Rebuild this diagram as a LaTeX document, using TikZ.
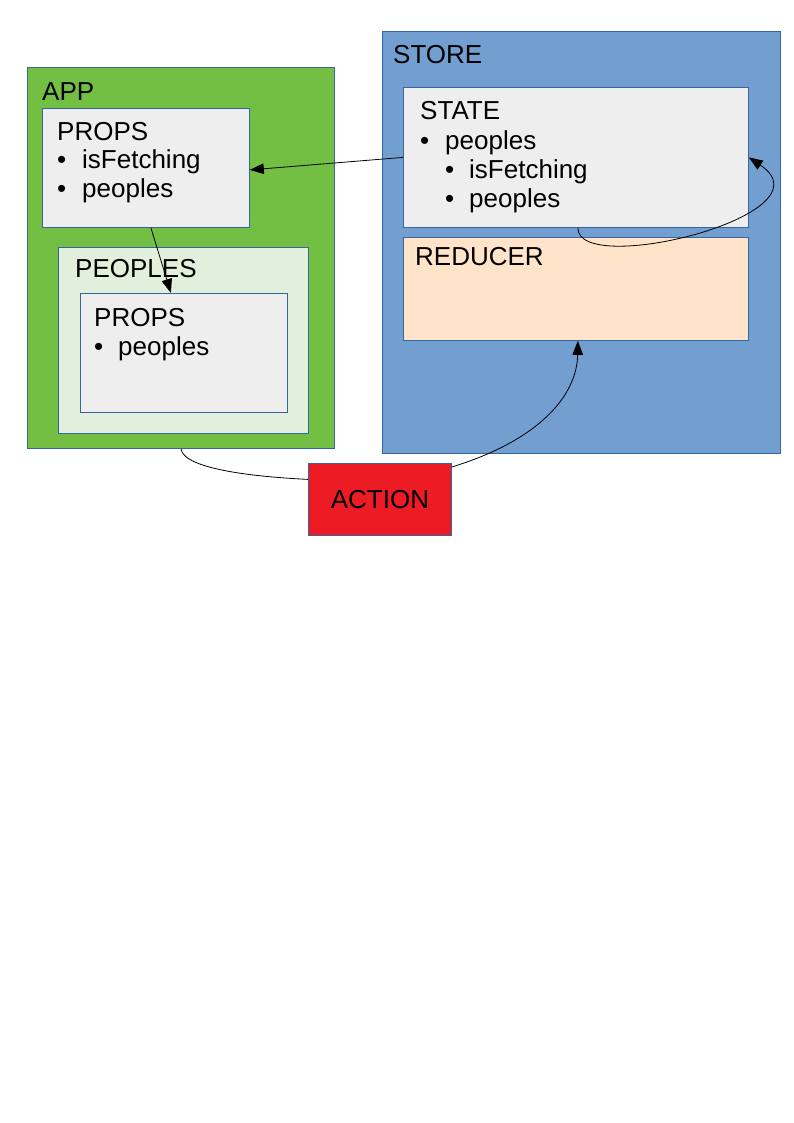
\documentclass[tikz,border=0pt]{standalone}
\usepackage{fontspec}
\setmainfont{Liberation Sans}
\usetikzlibrary{arrows.meta}
\definecolor{appgreen}{HTML}{72BF44}
\definecolor{peoplegreen}{HTML}{E2EFDA}
\definecolor{propgray}{HTML}{EEEEEE}
\definecolor{storeblue}{HTML}{729FCF}
\definecolor{reducerpeach}{HTML}{FFE4C9}
\definecolor{actionred}{HTML}{ED1C24}
\definecolor{edgeblue}{HTML}{3465A4}
\tikzset{
  box/.style={draw=edgeblue, line width=0.8pt, anchor=north west, inner sep=0pt},
  lbl/.style={anchor=base west, inner sep=0pt, font=\fontsize{26}{29}\selectfont},
  flow/.style={line width=0.8pt, -{Triangle[length=14pt,width=10.5pt]}}
}
\begin{document}
\begin{tikzpicture}[x=1pt,y=-1pt]
  \useasboundingbox (0,0) rectangle (794,1123);
  % APP
  \node[box, fill=appgreen, minimum width=307pt, minimum height=381pt] (app) at (27,67) {};
  \node[lbl] (applbl) at (42,101) {APP};
  \node[box, fill=propgray, minimum width=207pt, minimum height=119pt] (appprops) at (42,108) {};
  \node[lbl] (appproplbl) at (57,141) {PROPS};
  \foreach \y/\t [count=\i] in {169/isFetching, 198/peoples} {
    \node[lbl] (appbul\i) at (57,\y) {•};
    \node[lbl] (appitem\i) at (82,\y) {\t};
  }
  \node[box, fill=peoplegreen, minimum width=250pt, minimum height=186pt] (peoples) at (58,247) {};
  \node[lbl] (peopleslbl) at (75,277) {PEOPLES};
  \node[box, fill=propgray, minimum width=207pt, minimum height=119pt] (innerprops) at (80,293) {};
  \node[lbl] (innerproplbl) at (94,326) {PROPS};
  \node[lbl] (innerbul) at (94,355) {•};
  \node[lbl] (inneritem) at (118,355) {peoples};
  % STORE
  \node[box, fill=storeblue, minimum width=398pt, minimum height=422pt] (store) at (382,31) {};
  \node[lbl] (storelbl) at (393,64) {STORE};
  \node[box, fill=propgray, minimum width=345pt, minimum height=140pt] (state) at (403,87) {};
  \node[lbl] (statelbl) at (420,120) {STATE};
  \node[lbl] (statebul) at (420,150) {•};
  \node[lbl] (stateitem) at (445,150) {peoples};
  \foreach \y/\t [count=\i] in {179/isFetching, 208/peoples} {
    \node[lbl] (subbul\i) at (445,\y) {•};
    \node[lbl] (subitem\i) at (469,\y) {\t};
  }
  \node[box, fill=reducerpeach, minimum width=345pt, minimum height=103pt] (reducer) at (403,237) {};
  \node[lbl] (reducerlbl) at (415,265) {REDUCER};
  % ACTION
  \node[box, fill=actionred, minimum width=143pt, minimum height=72pt] (action) at (308,463) {};
  \node[font=\fontsize{26}{29}\selectfont, inner sep=0pt] (actionlbl) at (action.center) {ACTION};
  % connectors
  \draw[flow] (state.west) -- ([yshift=-2pt]appprops.east);
  \draw[flow] ([xshift=5pt]appprops.south) -- ([xshift=-13pt]innerprops.north);
  \draw[flow] ([xshift=2pt]state.south) .. controls (577,278) and (835,215) .. (state.east);
  \draw[line width=0.8pt] (app.south) .. controls (184,470) and (260,477) .. ([yshift=20pt]action.west);
  \draw[flow] ([yshift=-4pt]action.north east) .. controls (540,440) and (577,395) .. ([xshift=2pt]reducer.south);
\end{tikzpicture}
\end{document}
